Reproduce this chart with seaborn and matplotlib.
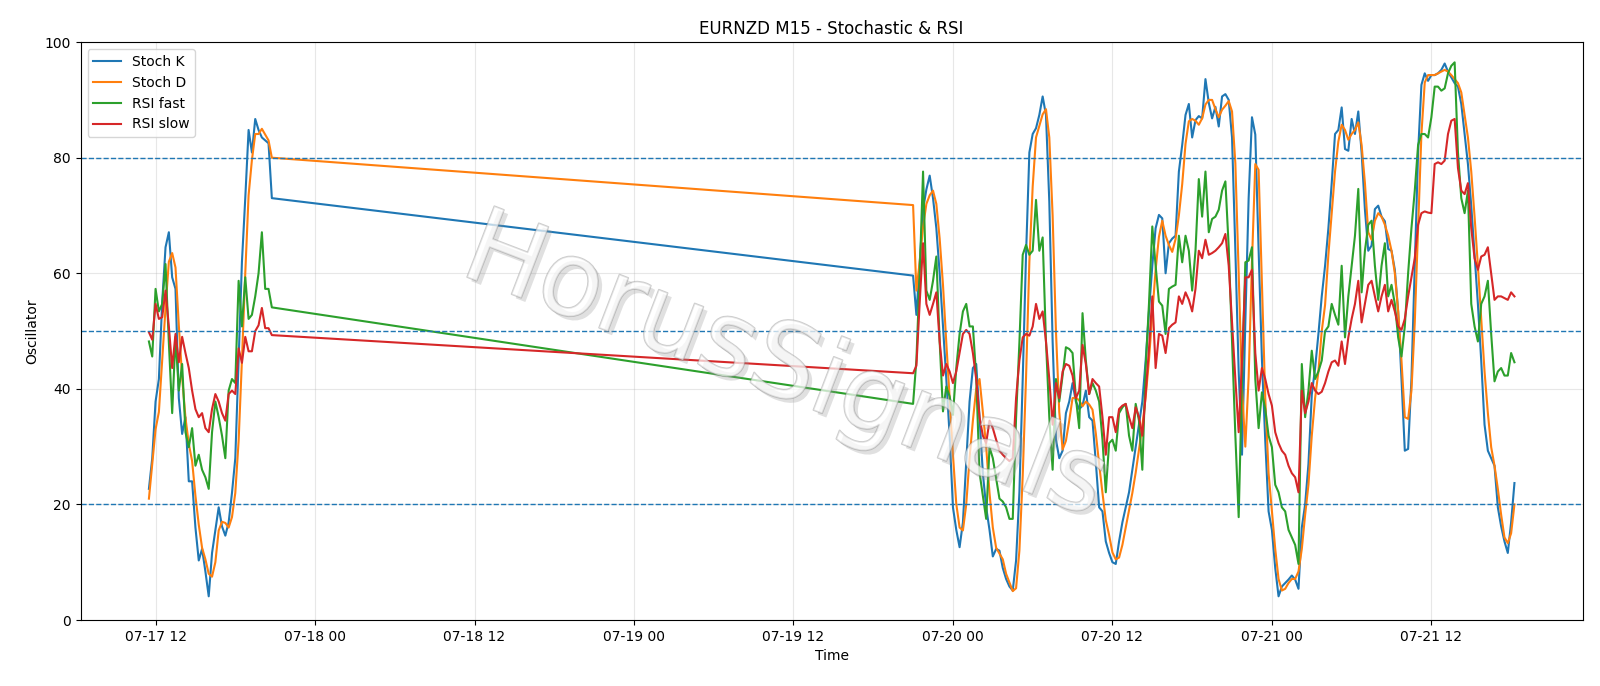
import pandas as pd
import matplotlib
matplotlib.use("Agg")
import matplotlib.pyplot as plt
import matplotlib.dates as mdates
import matplotlib.patheffects as pe
import seaborn as sns

# friday session, 15 min bars from 07-17 11:30
fri_start = "2020-07-17 11:30"
stoch_k_fri = [22.7, 28, 37.8, 41.7, 55, 64.5, 67.1, 59.3, 57.3, 38.4,
               32.2, 35.1, 24, 24, 16, 10.3, 12.3, 8.4, 4.1, 11.6,
               15.6, 19.5, 16.2, 14.6, 16.9, 22, 28, 45, 62, 73,
               84.8, 80.9, 86.7, 84.8, 83.5, 83, 82.5, 73]
stoch_d_fri = [21, 27, 33, 36, 45, 54, 62, 63.5, 61, 51,
               42, 35, 30.5, 27.5, 21.5, 16.5, 12.5, 10.5, 8, 7.5,
               10, 15.5, 17, 16.8, 16, 17.8, 22, 31, 45, 60,
               73.5, 79.6, 84.1, 84.1, 85, 84, 83, 80]
rsi_fast_fri = [48.2, 45.6, 57.3, 53.4, 54.7, 61.6, 48, 35.8, 49, 39.7,
                44.3, 32.5, 29.9, 33.2, 26.7, 28.6, 26, 24.7, 22.7, 32.5,
                37.8, 35.1, 31.9, 28, 39.7, 41.7, 41, 58.7, 50.8, 59.3,
                52.1, 52.8, 56, 60, 67.1, 57.3, 57.3, 54.1]
rsi_slow_fri = [49.8, 48.5, 54.7, 52.1, 52.4, 57, 50.8, 43.6, 49.5, 44.6,
                49, 46.2, 43.6, 39.7, 36.5, 35.1, 35.8, 33.2, 32.5, 36.5,
                39.1, 37.8, 35.8, 34.5, 39.1, 39.7, 39.1, 47, 44.5, 49,
                46.5, 46.5, 50, 51, 54, 50.5, 50.5, 49.3]

# week session from sunday 07-19 21:00
week_start = "2020-07-19 21:00"
stoch_k_week = [59.6, 52.8, 62, 71, 74.5, 76.9, 73, 67.8, 60, 50.8,
                41.7, 31.9, 19.5, 15.6, 12.6, 16.9, 27.3, 37.8, 43.6, 44.3,
                35.1, 25.4, 19.5, 15.6, 11, 12.3, 12, 9, 7.1, 5.8,
                5.1, 10.3, 22.1, 41.7, 63.2, 80.9, 84.1, 85.1, 87.4, 90.6,
                87.4, 72.4, 48.2, 31.2, 28, 29.3, 35.8, 37.8, 41, 37.8,
                36.5, 37.1, 39.7, 35.1, 34.5, 27.3, 19.5, 18.8, 13.6, 11.6,
                10, 9.7, 13.6, 16.9, 19.5, 22.1, 26, 29.9, 33.8, 37.8,
                44.9, 53.4, 61.3, 67.8, 70.1, 69.5, 60, 65.2, 66, 66.5,
                77.6, 82.2, 87.4, 89.3, 83.5, 86.5, 87.2, 86.8, 93.6, 89.5,
                86.8, 88.8, 85.4, 90.6, 91, 90, 83.5, 64, 43, 28.6,
                51.5, 73, 87, 84, 64, 45, 31, 18.8, 15.6, 9,
                4.1, 5.8, 6.4, 7, 7.7, 7, 5.4, 16, 20, 27,
                39, 43.6, 49.5, 56, 61.3, 67.8, 75.6, 84.1, 84.8, 88.7,
                81.5, 81.2, 86.7, 84.1, 88, 80.9, 71, 63.9, 64.8, 71.1,
                71.7, 69.8, 69, 64.2, 63.9, 60.6, 53.4, 41.7, 29.3, 29.6,
                41.7, 61.3, 80.9, 92.6, 94.6, 93.3, 94.3, 94.3, 94.6, 95.2,
                96.3, 94.9, 93.9, 92.9, 92.3, 89.3, 84.1, 78.9, 71.7, 63.2,
                54.7, 44.9, 33.8, 29.3, 28, 26.7, 19.5, 16.2, 13.6, 11.6,
                16.9, 23.7]
stoch_d_week = [71.8, 57, 62, 68, 72, 73.5, 74.3, 72, 66, 58,
                48, 38.5, 28.6, 20.1, 16, 15.5, 20, 28, 34.5, 40,
                41.7, 36, 30, 22, 16, 12.5, 11.5, 10.5, 8, 6.5,
                5, 5.5, 12, 25, 42, 62, 75, 83.5, 85.5, 87.5,
                88.4, 83.5, 70, 50, 36, 29.5, 31, 34.5, 38.4, 38.5,
                38, 37, 37.8, 37.3, 36.4, 32.3, 27, 22, 17.3, 14.7,
                11.7, 10.5, 10.8, 13, 16, 19, 22, 25.5, 29.5, 33.5,
                38.6, 45, 53, 60.6, 66.3, 69.1, 66.5, 64.9, 63.7, 65.9,
                70, 75.4, 82.4, 86.3, 86.7, 86.4, 85.7, 86.8, 89.2, 90,
                90, 88.4, 87, 88.3, 89, 89.8, 88, 79, 60, 40,
                30, 42, 62, 78.9, 77.9, 58, 38.4, 25.4, 18.8, 12.3,
                7.1, 5.1, 5.4, 6.4, 7.1, 7.1, 8.4, 12.3, 18.2, 23.4,
                31.9, 38.4, 43, 50, 54.5, 63.2, 70.4, 77.6, 82.8, 85.7,
                84.8, 83.1, 84.1, 84.8, 86.1, 82.2, 75.6, 67.1, 65.8, 69.1,
                70.4, 69.8, 68.4, 66.5, 63.9, 60, 53.4, 44.9, 35.1, 34.8,
                39.7, 51.5, 67.8, 84.1, 93, 94.3, 94.3, 94.3, 94.6, 94.9,
                95.2, 94.9, 94.3, 93.6, 92.9, 91.3, 87.4, 83.5, 77.6, 69.8,
                61.3, 52.1, 43, 35.8, 29.9, 26.7, 22.7, 18.2, 14.3, 13.3,
                15, 20]
rsi_fast_week = [37.4, 45, 60, 77.6, 57, 55.4, 58.7, 62.9, 48.2, 36.1,
                 40.4, 38.7, 35.5, 43.6, 49.5, 53.4, 54.7, 50.8, 50.8, 42,
                 25.5, 21.5, 17.5, 29.9, 28, 24.5, 21, 20.5, 19.5, 17.5,
                 17.5, 35, 48, 63.2, 64.9, 63.2, 63.9, 72.7, 63.9, 66.2,
                 48.2, 35.1, 26, 41.7, 37.8, 42.3, 47.2, 46.9, 46.2, 38.4,
                 33.2, 53.1, 44.9, 39.1, 41, 39.7, 37.8, 31.2, 22.1, 30.6,
                 31.2, 29.3, 35.8, 36.8, 37.4, 31.9, 29.3, 37.4, 34.5, 26,
                 43.6, 54.7, 68.1, 61.3, 55.1, 54.4, 49.5, 57.3, 57.7, 58,
                 66.5, 61.9, 66.5, 63.9, 57, 63.9, 76.3, 69.8, 77.6, 67.1,
                 69.4, 69.8, 71, 74.3, 75.9, 64.5, 48.2, 31.9, 17.8, 41.7,
                 61.9, 62.2, 64.5, 41.7, 33.2, 39.4, 36.5, 31.9, 29.9, 23.4,
                 22.1, 19.5, 18.8, 15.6, 14.3, 13, 9.7, 44.3, 35.1, 39.7,
                 46.6, 41.7, 43, 44.9, 50, 50.8, 54.7, 52.8, 51.1, 61.3,
                 48.9, 56, 61.3, 66.5, 74.6, 56.7, 63.9, 68.4, 69.1, 61.3,
                 55.4, 61.3, 65.2, 56, 58, 54.7, 48.9, 45.6, 50.8, 60,
                 67.8, 74.3, 82.2, 84.1, 84.1, 83.5, 87, 92.3, 92.3, 91.6,
                 92, 94.6, 95.9, 96.5, 80.9, 73, 70.4, 74.3, 54.7, 50.8,
                 48.2, 54.7, 56, 58.7, 49.5, 41.3, 43, 43.6, 42.3, 42.3,
                 46.2, 44.6]
rsi_slow_week = [42.7, 44, 55, 65.2, 54.7, 52.8, 54.7, 56.7, 48.2, 42.3,
                 44.3, 43, 41, 43, 46.2, 49.5, 50.2, 49.5, 46.2, 41.7,
                 35.1, 31.9, 30.6, 34.5, 33.2, 31.2, 29.3, 28.6, 28, 27.5,
                 28, 38.4, 44.9, 48.9, 49.5, 49.2, 50.8, 54.7, 52.1, 53.4,
                 48.2, 41.7, 33.8, 41, 38.4, 43, 44.3, 44, 42.3, 38.4,
                 39.7, 47.6, 44.3, 39.1, 41.7, 41, 40.4, 35.1, 28.6, 35.1,
                 35.1, 32.5, 36.5, 37.1, 37.4, 35.1, 33.2, 36.8, 35.1, 31.9,
                 39.1, 46.9, 56, 43.6, 49.5, 49.2, 46.2, 50.5, 51.1, 51.5,
                 56, 54.7, 56.7, 55.4, 53.4, 57.3, 63.9, 62.6, 65.8, 63.2,
                 63.5, 63.9, 64.5, 65.2, 66.8, 61.3, 51.5, 41.7, 32.5, 44.9,
                 59.3, 59.3, 60.6, 46.2, 39.7, 43.6, 41.7, 39.1, 37.1, 32.5,
                 30.6, 29.3, 28.6, 26.7, 25.4, 24.7, 22.1, 39.7, 35.8, 37.8,
                 41, 39.7, 39.1, 39.5, 41, 43, 44.6, 44.9, 44, 48.2,
                 44.3, 48.9, 52.1, 54.7, 58.7, 51.5, 54.7, 58, 58.7, 56,
                 53.4, 56, 58, 53.4, 55.4, 53.4, 50.8, 50.2, 52.1, 56,
                 59.3, 62.6, 68.4, 70.4, 70.7, 70.5, 70.4, 78.9, 79.2, 78.9,
                 79.5, 84.1, 86.4, 86.7, 78.2, 74.3, 73.7, 75.6, 67.8, 62.6,
                 60.6, 62.9, 63.2, 64.5, 60, 55.4, 56, 56, 55.7, 55.4,
                 56.7, 56]

levels = [80, 50, 20]

times = pd.date_range(fri_start, periods=len(stoch_k_fri), freq="15min").append(
    pd.date_range(week_start, periods=len(stoch_k_week), freq="15min"))
df = pd.DataFrame({
    "time": times,
    "Stoch K": stoch_k_fri + stoch_k_week,
    "Stoch D": stoch_d_fri + stoch_d_week,
    "RSI fast": rsi_fast_fri + rsi_fast_week,
    "RSI slow": rsi_slow_fri + rsi_slow_week,
})

fig, ax = plt.subplots(figsize=(16, 6.86), dpi=100)
fig.subplots_adjust(left=0.0504, right=0.9892, bottom=0.0962, top=0.9386)

colors = ["tab:blue", "tab:orange", "tab:green", "tab:red"]
for name, c in zip(["Stoch K", "Stoch D", "RSI fast", "RSI slow"], colors):
    sns.lineplot(data=df, x="time", y=name, ax=ax, color=c, label=name,
                 estimator=None, linewidth=1.5)

for lv in levels:
    ax.axhline(lv, color="tab:blue", linestyle="--", linewidth=1)

ax.set_ylim(0, 100)
ax.xaxis.set_major_locator(mdates.HourLocator(byhour=[0, 12]))
ax.xaxis.set_major_formatter(mdates.DateFormatter("%m-%d %H"))
ax.grid(True, alpha=0.3)
ax.set_title("EURNZD M15 - Stochastic & RSI")
ax.set_xlabel("Time")
ax.set_ylabel("Oscillator")
ax.legend(loc="upper left")

# watermark
ax.text(0.469, 0.435, "HorusSignals", transform=ax.transAxes, fontsize=75,
        rotation=-21, ha="center", va="center", color="white", alpha=0.45,
        zorder=5,
        path_effects=[pe.SimplePatchShadow(offset=(3, -3), shadow_rgbFace="0.6", alpha=0.3),
                      pe.Stroke(linewidth=1.2, foreground="0.55"),
                      pe.Normal()])

fig.savefig("out.png", dpi=100)
